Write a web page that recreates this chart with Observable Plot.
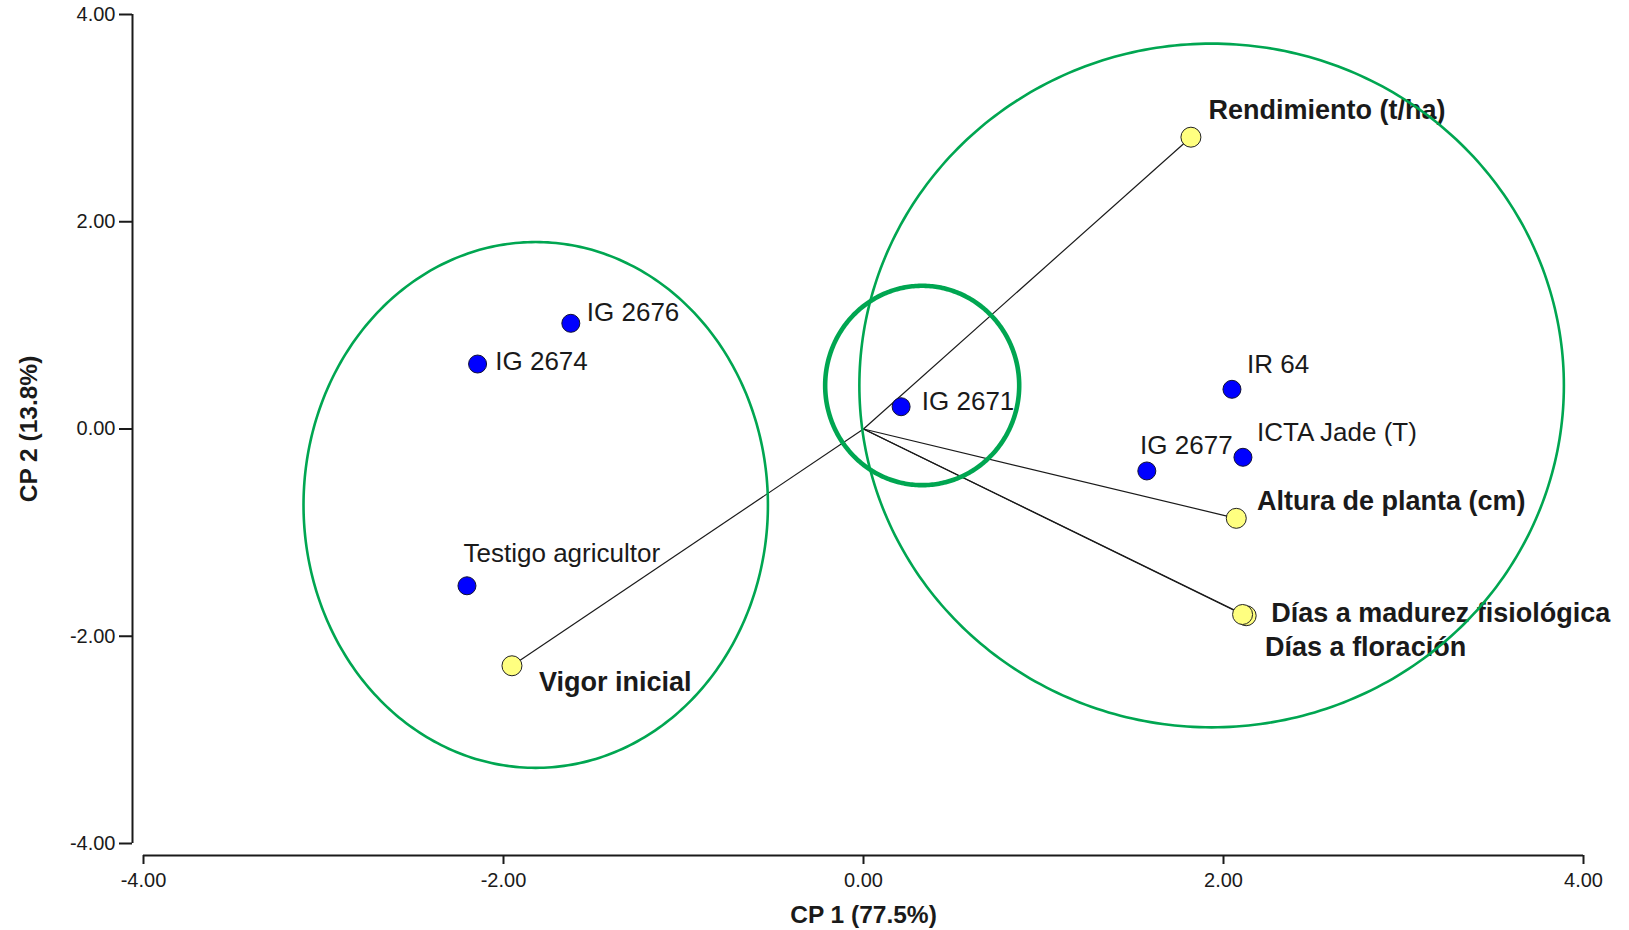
<!DOCTYPE html>
<html>
<head>
<meta charset="utf-8">
<script src="https://cdn.jsdelivr.net/npm/d3@7"></script>
<script src="https://cdn.jsdelivr.net/npm/@observablehq/plot@0.6"></script>
<style>
  html, body { margin: 0; padding: 0; background: #fff; }
  #chart svg { display: block; }
</style>
</head>
<body>
<div id="chart"></div>
<script>
// Genotype scores on the first two principal components
const genotypes = ["IG 2676", "IG 2674", "Testigo agricultor", "IG 2671", "IR 64", "ICTA Jade (T)", "IG 2677"];
const genoCP1 = [-1.626, -2.144, -2.203, 0.209, 2.047, 2.108, 1.574];
const genoCP2 = [1.020, 0.627, -1.513, 0.215, 0.383, -0.273, -0.405];

// Variable loadings (drawn as vectors from the origin)
const variables = ["Rendimiento (t/ha)", "Vigor inicial", "Altura de planta (cm)", "Días a madurez fisiológica", "Días a floración"];
const varCP1 = [1.819, -1.953, 2.071, 2.126, 2.106];
const varCP2 = [2.816, -2.285, -0.862, -1.802, -1.790];

// Groupings outlined as ellipses (centre and semi-axes in CP units)
const groupNames = ["left", "right", "centre"];
const groupCP1 = [-1.821, 1.934, 0.326];
const groupCP2 = [-0.733, 0.420, 0.420];
const groupRadCP1 = [1.290, 1.957, 0.539];
const groupRadCP2 = [2.537, 3.299, 0.962];

// Axis ticks
const xTicks = [-4, -2, 0, 2, 4];
const yTicks = [-4, -2, 0, 2, 4];
const xTitle = "CP 1 (77.5%)";
const yTitle = "CP 2 (13.8%)";

// Label nudges in pixels, relative to each point
const labelNudge = {
  "IG 2676": [16, -10.6],
  "IG 2674": [17.7, -2.2],
  "Testigo agricultor": [-3.4, -32.2],
  "IG 2671": [20.7, -5],
  "IR 64": [15, -25],
  "ICTA Jade (T)": [14, -24.6],
  "IG 2677": [-6.7, -25],
  "Rendimiento (t/ha)": [17.6, -26.8],
  "Vigor inicial": [27, 16.3],
  "Altura de planta (cm)": [20.7, -17.3],
  "Días a madurez fisiológica": [25, -2.7],
  "Días a floración": [22.5, 33]
};

const genoData = genotypes.map((name, i) => ({name, cp1: genoCP1[i], cp2: genoCP2[i]}));
const varData = variables.map((name, i) => ({name, cp1: varCP1[i], cp2: varCP2[i]}));

// Outline points for each grouping ellipse
const steps = 360;
const ellipseOutline = groupNames.flatMap((g, i) =>
  d3.range(steps + 1).map(k => {
    const t = 2 * Math.PI * k / steps;
    return {group: g, cp1: groupCP1[i] + groupRadCP1[i] * Math.cos(t), cp2: groupCP2[i] + groupRadCP2[i] * Math.sin(t)};
  })
);

const font = "'Liberation Sans', Arial, Helvetica, sans-serif";
const ink = "#1a1a1a";
const green = "#00a651";

const labelMarks = (data, opts) => data.map(d => Plot.text([d], {
  x: "cp1", y: "cp2", text: "name",
  textAnchor: "start", lineAnchor: "middle",
  dx: labelNudge[d.name][0], dy: labelNudge[d.name][1],
  fill: ink, stroke: "white", strokeWidth: 6, paintOrder: "stroke",
  ...opts
}));

const chart = Plot.plot({
  width: 1629,
  height: 930,
  marginLeft: 143,
  marginRight: 46,
  marginTop: 14,
  marginBottom: 87,
  style: {fontFamily: font, background: "white", color: ink},
  x: {domain: [-4, 4]},
  y: {domain: [-4, 4]},
  marks: [
    // axes
    Plot.ruleX([-4], {dx: -11, stroke: ink, strokeWidth: 2}),
    Plot.ruleY([-4], {dy: 12, stroke: ink, strokeWidth: 2}),
    Plot.axisY(yTicks, {anchor: "left", tickSize: 13, tickPadding: 4, dx: -11, strokeWidth: 2,
      tickFormat: d => d.toFixed(2), fontSize: 20, label: null}),
    Plot.axisX(xTicks, {anchor: "bottom", tickSize: 9, tickPadding: 8, dy: 12, strokeWidth: 2,
      tickFormat: d => d.toFixed(2), fontSize: 20, label: null}),
    Plot.text([xTitle], {frameAnchor: "bottom", textAnchor: "middle", lineAnchor: "middle", dy: 72,
      text: d => d, fontSize: 24.5, fontWeight: "bold", fill: ink}),
    Plot.text([yTitle], {frameAnchor: "left", textAnchor: "middle", lineAnchor: "middle", dx: -114, rotate: -90,
      text: d => d, fontSize: 24.5, fontWeight: "bold", fill: ink}),

    // variable vectors
    Plot.link(varData, {x1: 0, y1: 0, x2: "cp1", y2: "cp2", stroke: ink, strokeWidth: 1.2}),

    // points
    Plot.dot(genoData, {x: "cp1", y: "cp2", r: 9, fill: "#0000ff", stroke: "#111133", strokeWidth: 1}),
    Plot.dot(varData, {x: "cp1", y: "cp2", r: 10, fill: "#ffff80", stroke: "#222", strokeWidth: 1}),

    // labels
    ...labelMarks(genoData, {fontSize: 26}),
    ...labelMarks(varData, {fontSize: 27, fontWeight: "bold"}),

    // grouping ellipses
    Plot.line(ellipseOutline.filter(d => d.group !== "centre"), {x: "cp1", y: "cp2", z: "group", stroke: green, strokeWidth: 2.6}),
    Plot.line(ellipseOutline.filter(d => d.group === "centre"), {x: "cp1", y: "cp2", z: "group", stroke: green, strokeWidth: 4.6})
  ]
});

document.getElementById("chart").appendChild(chart);
</script>
</body>
</html>
